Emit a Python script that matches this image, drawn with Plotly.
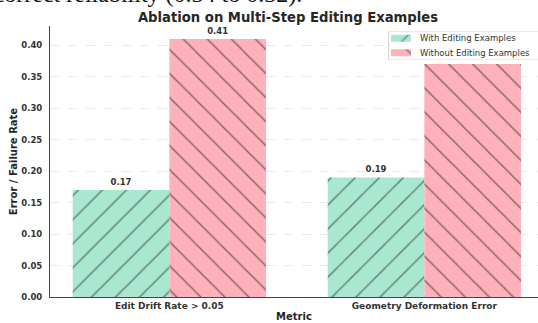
import plotly.graph_objects as go

# ---- data ----
metrics = ["Edit Drift Rate > 0.05", "Geometry Deformation Error"]
with_examples = [0.17, 0.19]
without_examples = [0.41, 0.37]
with_labels = ["0.17", "0.19"]
without_labels = ["0.41", ""]
series_names = ["With Editing Examples", "Without Editing Examples"]
y_ticks = [0.00, 0.05, 0.10, 0.15, 0.20, 0.25, 0.30, 0.35, 0.40]
y_ticklabels = ["0.00", "0.05", "0.10", "0.15", "0.20", "0.25", "0.30", "0.35", "0.40"]

W, H = 538, 323
L, R, T, B = 50, 0, 26, 26
pw = W - L - R
ph = H - T - B

GREEN = "#a9e7d0"
PINK = "#ffb1bb"
HATCH = "#262626"
BOLD = "DejaVu Sans, sans-serif"
HSIZE = 17
HSOL = 0.09

fig = go.Figure()
fig.add_trace(go.Bar(
    x=metrics, y=with_examples, name=series_names[0],
    marker=dict(color=GREEN, line=dict(width=0),
                pattern=dict(shape="/", fgcolor=HATCH, size=HSIZE, solidity=HSOL)),
    text=with_labels, textposition="outside", cliponaxis=False,
    textfont=dict(family=BOLD, size=8.5, color="#333333", weight="bold"),
    hoverinfo="skip",
))
fig.add_trace(go.Bar(
    x=metrics, y=without_examples, name=series_names[1],
    marker=dict(color=PINK, line=dict(width=0),
                pattern=dict(shape="\\", fgcolor=HATCH, size=HSIZE, solidity=HSOL)),
    text=without_labels, textposition="outside", cliponaxis=False,
    textfont=dict(family=BOLD, size=8.5, color="#333333", weight="bold"),
    hoverinfo="skip",
))

# ---- compact legend drawn in a small inset subplot ----
LEG_L, LEG_T, LEG_B = 388, 31, 60
LEG_W = W - LEG_L
fig.add_trace(go.Bar(
    y=series_names, x=[20, 20], base=[3, 3], orientation="h",
    width=[0.48, 0.48], xaxis="x2", yaxis="y2", showlegend=False,
    marker=dict(color=[GREEN, PINK], line=dict(width=0),
                pattern=dict(shape=["/", "\\"], fgcolor=HATCH, size=HSIZE, solidity=HSOL)),
    hoverinfo="skip",
))
for name in series_names:
    fig.add_annotation(
        text=name, xref="x2", yref="y2", x=30, y=name,
        xanchor="left", yanchor="middle", showarrow=False,
        font=dict(family="DejaVu Sans, sans-serif", size=8.5, color="#333333"),
    )
fig.add_shape(
    type="rect", xref="x2", yref="y2",
    x0=0.5, x1=LEG_W + 5, y0=-0.5, y1=1.5, layer="between",
    fillcolor="white", line=dict(color="#d5d5d5", width=1),
)

fig.update_layout(
    width=W, height=H,
    margin=dict(l=L, r=R, t=T, b=B, pad=0),
    paper_bgcolor="white", plot_bgcolor="white",
    barmode="group", bargap=0.242, bargroupgap=0,
    title=dict(text="<b>Ablation on Multi-Step Editing Examples</b>",
               x=288 / W, xanchor="center",
               y=1 - 17 / H, yanchor="middle",
               font=dict(family=BOLD, size=13.2, color="#262626")),
    showlegend=False,
    xaxis=dict(
        range=[-0.468, -0.468 + pw / 255.0],
        showgrid=False, showline=True, linecolor="#444444", linewidth=1,
        ticks="", tickfont=dict(family=BOLD, size=9, color="#333333", weight="bold"),
        title=dict(text="<b>Metric</b>", standoff=3,
                   font=dict(family=BOLD, size=10, color="#262626")),
    ),
    yaxis=dict(
        range=[0, 0.4305], tickvals=y_ticks, ticktext=y_ticklabels,
        showgrid=True, gridcolor="#e3e3e3", gridwidth=0.8, griddash="dash",
        showline=True, linecolor="#444444", linewidth=1, zeroline=False,
        ticks="", ticklabelstandoff=5,
        tickfont=dict(family=BOLD, size=8.5, color="#333333", weight="bold"),
        title=dict(text="<b>Error / Failure Rate</b>", standoff=1,
                   font=dict(family=BOLD, size=10, color="#262626")),
    ),
    xaxis2=dict(domain=[(LEG_L - L) / pw, 1.0], range=[0, LEG_W], anchor="y2",
                visible=False, fixedrange=True),
    yaxis2=dict(domain=[1 - (LEG_B - T) / ph, 1 - (LEG_T - T) / ph], range=[1.5, -0.5],
                anchor="x2", visible=False, fixedrange=True, type="category"),
)

# clipped body text from the page above the figure
fig.add_annotation(
    text="and correct reliability (0.34 to 0.32).",
    xref="paper", yref="paper",
    x=(304 - L) / pw, y=1 + 17 / ph, xanchor="right", yanchor="bottom",
    showarrow=False,
    font=dict(family="Liberation Serif, serif", size=24, color="#111111"),
)

fig.write_html(
    "out.html",
    config={"displayModeBar": False, "staticPlot": True},
    post_script="document.body.style.margin='0';document.body.style.overflow='hidden';",
)
